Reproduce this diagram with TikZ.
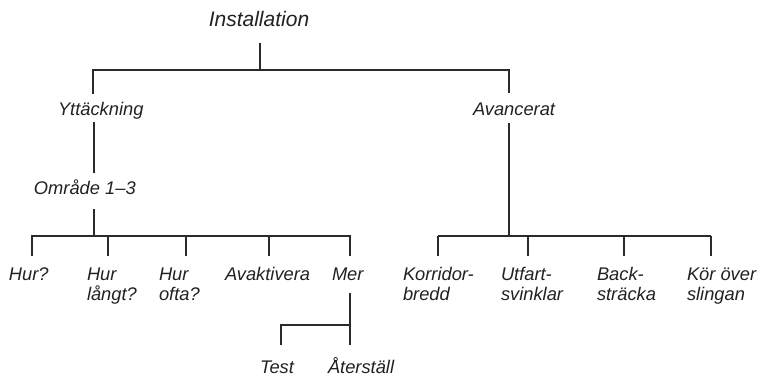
\documentclass[tikz,border=0pt]{standalone}
\usepackage{fontspec}
\setmainfont{Liberation Sans}
\begin{document}
\begin{tikzpicture}[x=1pt,y=-1pt,
  lbl/.style={inner sep=0pt, outer sep=0pt, anchor=base west, text=txtc,
    font=\fontsize{18.3}{20.6}\selectfont\itshape, align=left},
  ttl/.style={inner sep=0pt, outer sep=0pt, anchor=base, text=txtc,
    font=\fontsize{21}{24}\selectfont\itshape},
  ln/.style={draw=linec, line width=1.7pt},
  lnb/.style={draw=linec, line width=2.6pt}]
\definecolor{linec}{HTML}{2A2A2A}
\definecolor{txtc}{HTML}{222222}
\useasboundingbox (0,0) rectangle (761,377);
\fill[white] (0,0) rectangle (761,377);

% labels (two-line labels are placed by the baseline of their last line)
\node[ttl] (inst) at (259,27) {Installation};
\node[lbl] (yt) at (58,116) {Yttäckning};
\node[lbl] (av) at (473,116) {Avancerat};
\node[lbl] (om) at (34,195) {Område 1–3};
\node[lbl] (hur) at (9,280) {Hur?};
\node[lbl] (hurl) at (87,300.6) {Hur\\långt?};
\node[lbl] (huro) at (159,300.6) {Hur\\ofta?};
\node[lbl] (avk) at (225,280) {Avaktivera};
\node[lbl] (mer) at (332,280) {Mer};
\node[lbl] (test) at (260,373) {Test};
\node[lbl] (ater) at (328,373) {Återställ};
\node[lbl] (kor) at (403,300.6) {Korridor-\\bredd};
\node[lbl] (utf) at (501,300.6) {Utfart-\\svinklar};
\node[lbl] (back) at (597,300.6) {Back-\\sträcka};
\node[lbl] (kov) at (687,300.6) {Kör över\\slingan};

% connector end points
\coordinate (instS) at (260,43);
\coordinate (topJ) at (260,70);
\coordinate (ytN) at (93,94);
\coordinate (avN) at (509,93);
\coordinate (ytS) at (94,122);
\coordinate (omN) at (94,173);
\coordinate (omS) at (94,209);
\coordinate (omJ) at (94,236);
\coordinate (hurN) at (32,256);
\coordinate (hurlN) at (108,256);
\coordinate (huroN) at (186,256);
\coordinate (avkN) at (269,256);
\coordinate (merN) at (350,256);
\coordinate (merS) at (350,293);
\coordinate (merJ) at (350,325);
\coordinate (testN) at (281,345);
\coordinate (aterN) at (350,345);
\coordinate (avS) at (509,123);
\coordinate (avJ) at (509,236);
\coordinate (korN) at (438,256);
\coordinate (utfN) at (528,256);
\coordinate (backN) at (624,256);
\coordinate (kovN) at (711,256);

% connectors
\draw[ln] (instS) -- (topJ);
\draw[ln] (ytN) -- (ytN |- topJ) -- (avN |- topJ) -- (avN);
\draw[ln] (ytS) -- (omN);
\draw[ln] (omS) -- (omJ);
\draw[ln] (hurN) -- (hurN |- omJ) -- (merN |- omJ) -- (merN);
\draw[ln] (hurlN) -- (hurlN |- omJ);
\draw[ln] (huroN) -- (huroN |- omJ);
\draw[ln] (avkN) -- (avkN |- omJ);
\draw[ln] (merS) -- (aterN);
\draw[ln] (testN) |- (merJ);
\draw[ln] (avS) -- (avJ);
\draw[ln] (korN |- avJ) -- (kovN |- avJ);
\draw[lnb] (korN) -- ([yshift=-0.45pt]korN |- avJ);
\draw[lnb] (kovN) -- ([yshift=-0.45pt]kovN |- avJ);
\draw[ln] (utfN) -- (utfN |- avJ);
\draw[ln] (backN) -- (backN |- avJ);
\end{tikzpicture}
\end{document}
